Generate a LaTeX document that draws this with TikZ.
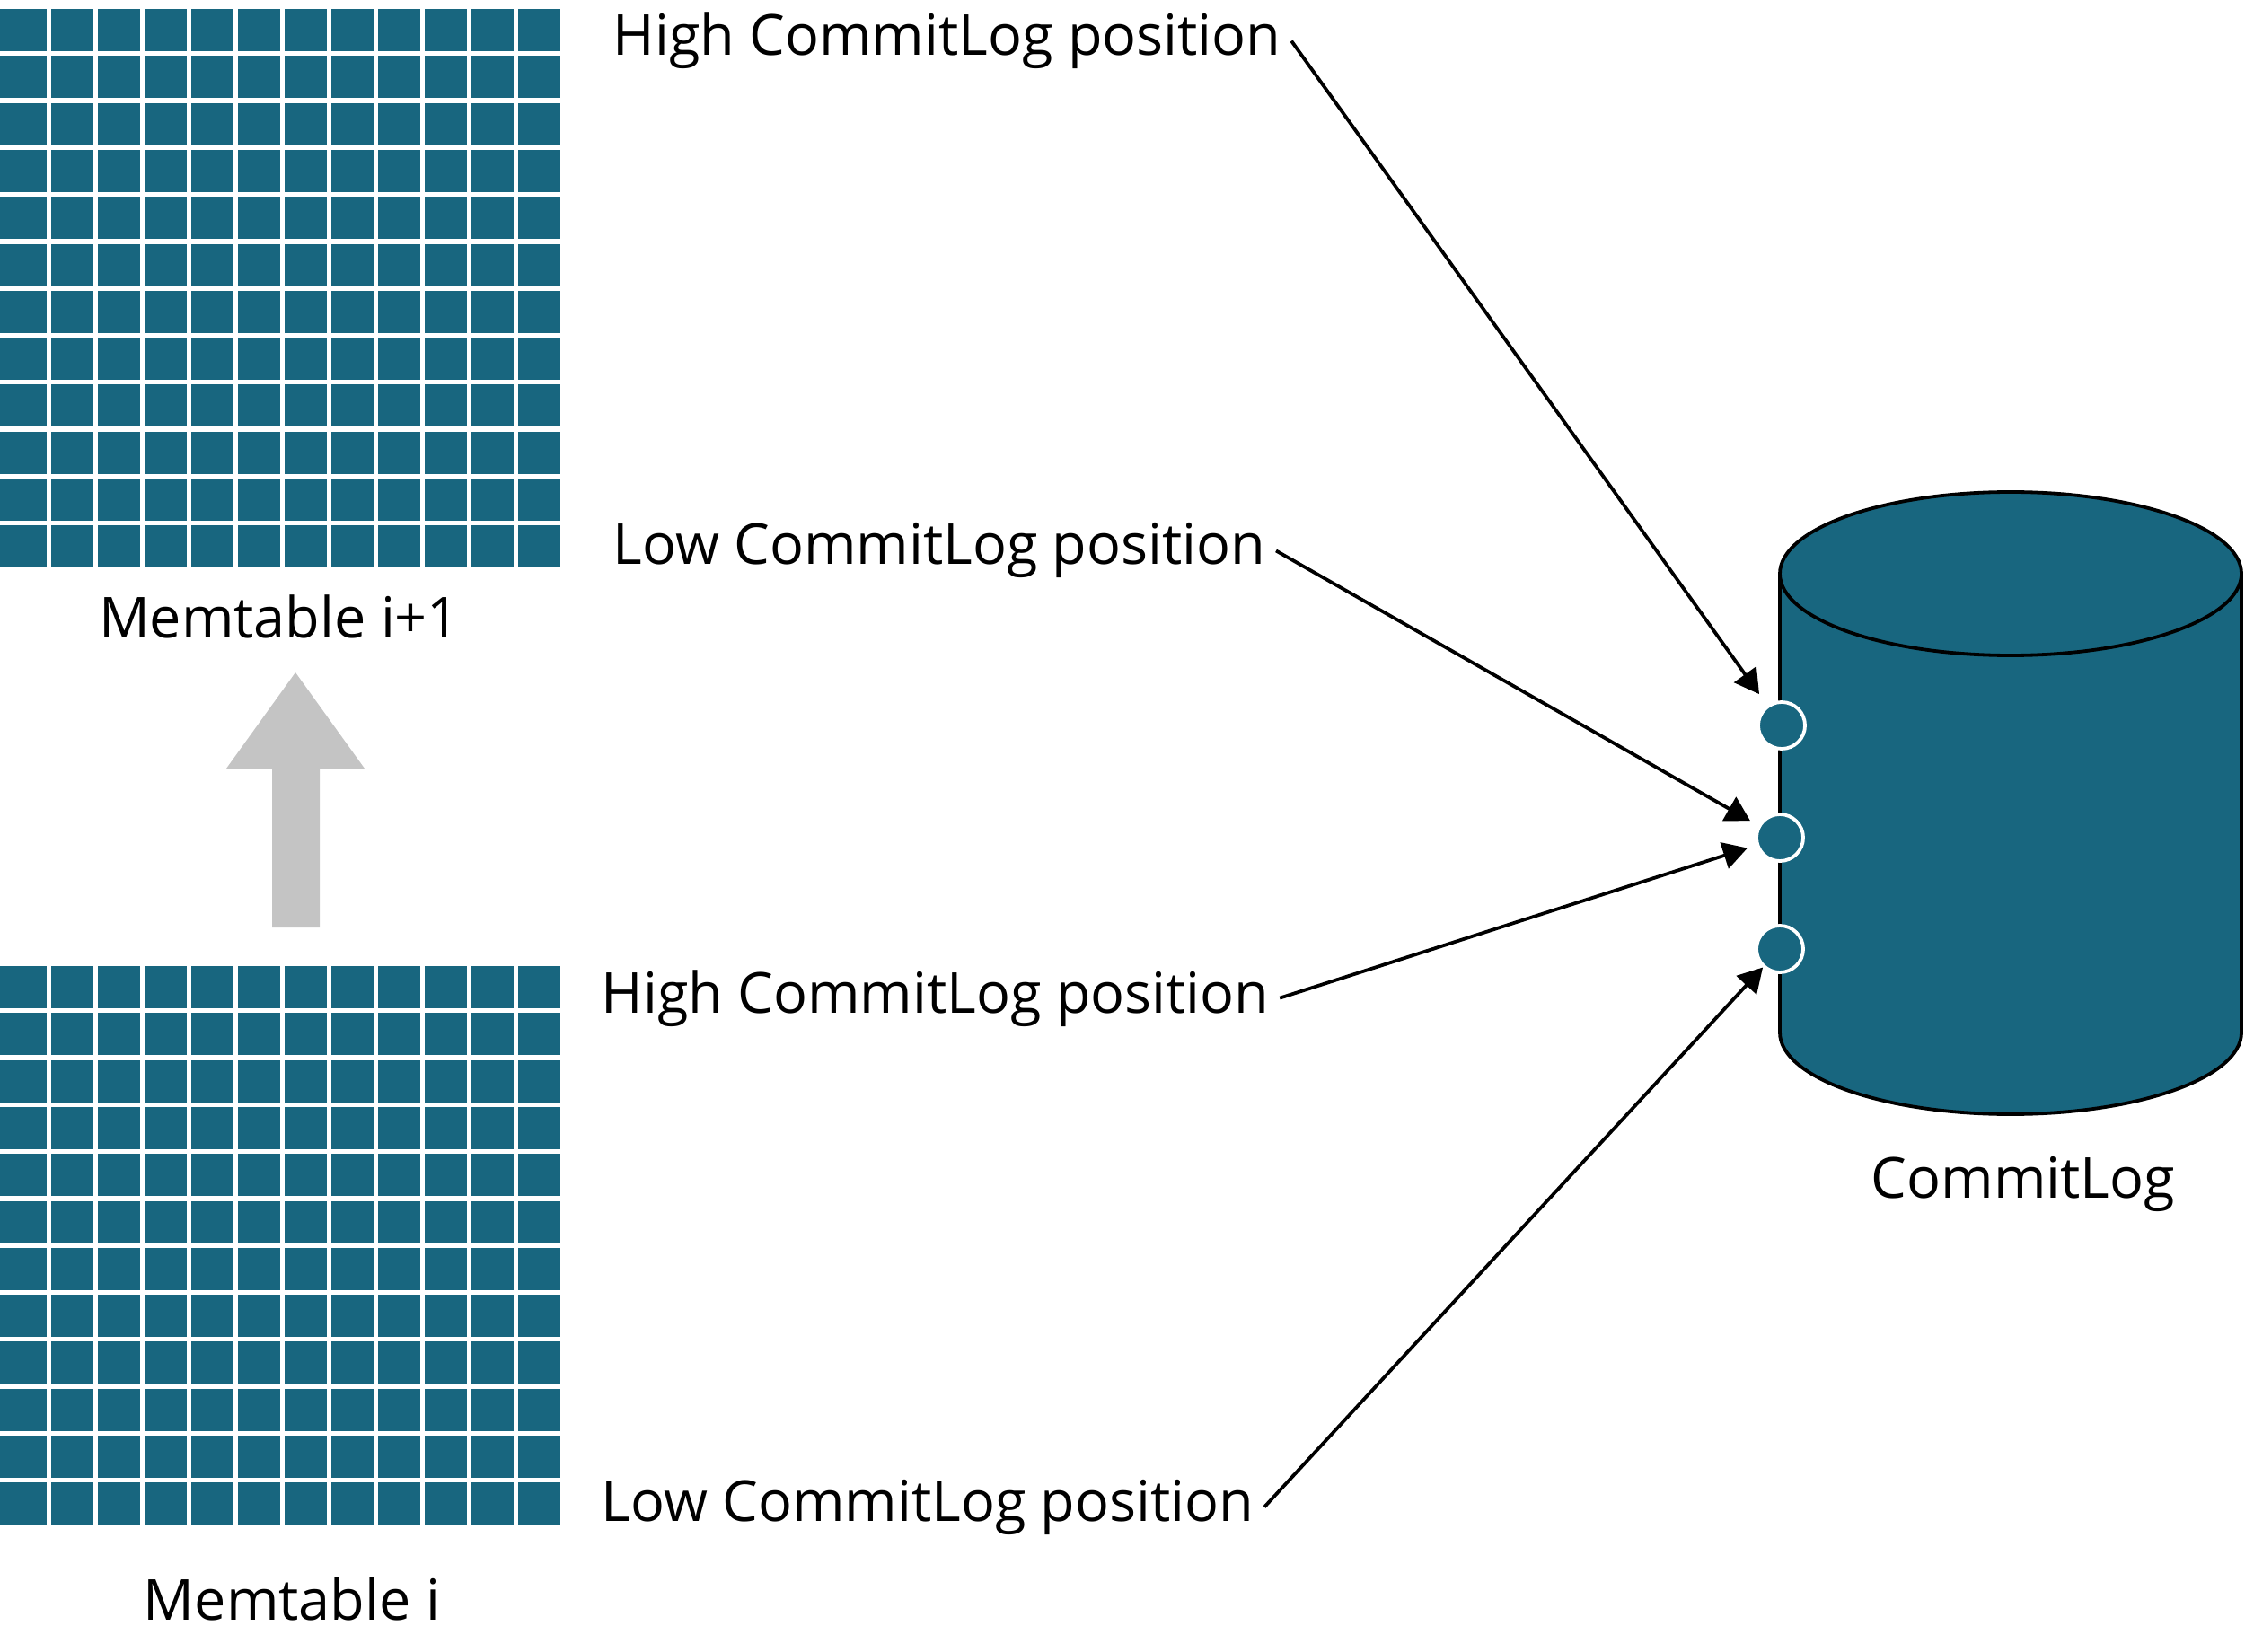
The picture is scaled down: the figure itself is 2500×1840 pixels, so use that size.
\documentclass[tikz,border=0pt]{standalone}
\usepackage{fontspec}
\setmainfont{Open Sans}
\usetikzlibrary{arrows.meta}
\definecolor{memteal}{HTML}{18667F}
\definecolor{shiftgray}{HTML}{C4C4C4}

\begin{document}
\begin{tikzpicture}[x=0.01cm,y=0.01cm,
  lbl/.style={font=\fontsize{17.9pt}{21pt}\selectfont, inner sep=0pt},
  poslabel/.style={lbl, anchor=base west, inner xsep=0.11cm},
  gap/.style={white, line width=0.054cm},
  dot/.style={circle, fill=memteal, draw=white, line width=0.038cm, minimum size=0.52cm, inner sep=0pt},
  conn/.style={-{Triangle[length=0.27cm,width=0.3cm]}, line width=0.038cm}]
\useasboundingbox (0,0) rectangle (2500,-1840);

% memtable grids
\fill[memteal] (0,-10) rectangle (624,-632);
\fill[memteal] (0,-1076) rectangle (624,-1698);
\foreach \i in {1,...,11} {
  \draw[gap] ({52*\i+2.5},-10) -- ++(0,-622);
  \draw[gap] (0,{-7.35-52.3*\i}) -- ++(624,0);
  \draw[gap] ({52*\i+2.5},-1076) -- ++(0,-622);
  \draw[gap] (0,{-1073.35-52.3*\i}) -- ++(624,0);
}
\node[lbl, anchor=base] (memnext) at (311,-710) {Memtable i+1};
\node[lbl, anchor=base] (memcur) at (325,-1804) {Memtable i};

% shift arrow
\fill[shiftgray] (329,-749) -- (406,-856) -- (356,-856) -- (356,-1033)
  -- (303,-1033) -- (303,-856) -- (252,-856) -- cycle;

% commitlog
\draw[fill=memteal, line width=0.038cm] (1982,-639) -- (1982,-1150)
  arc[start angle=180, end angle=360, x radius=257, y radius=91] -- (2496,-639);
\draw[fill=memteal, line width=0.038cm] (2239,-639) ellipse [x radius=257, y radius=91];
\node[lbl, anchor=base] (log) at (2253,-1334) {CommitLog};

\node[dot] (c1) at (1984,-808) {};
\node[dot] (c2) at (1982,-933) {};
\node[dot] (c3) at (1982,-1057) {};

% positions
\node[poslabel] (hinext) at (671,-62) {High CommitLog position};
\node[poslabel] (lonext) at (671,-629) {Low CommitLog position};
\node[poslabel] (hicur) at (658,-1128) {High CommitLog position};
\node[poslabel] (locur) at (658,-1694) {Low CommitLog position};

\draw[conn, shorten >=0.15cm] (hinext.east) -- (c1);
\draw[conn, shorten >=0.1cm] (lonext.east) -- (c2);
\draw[conn, shorten >=0.1cm] (hicur.east) -- (c2);
\draw[conn] (locur.east) -- (c3);
\end{tikzpicture}
\end{document}
